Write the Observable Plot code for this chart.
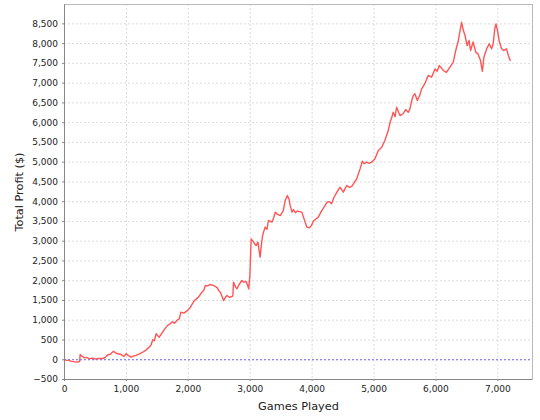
<!DOCTYPE html>
<html>
<head>
<meta charset="utf-8">
<script src="https://cdn.jsdelivr.net/npm/d3@7"></script>
<script src="https://cdn.jsdelivr.net/npm/@observablehq/plot@0.6"></script>
<style>
  html, body { margin: 0; padding: 0; background: #fff; }
  #chart svg { display: block; font-family: "DejaVu Sans", sans-serif; }
  #chart g[aria-label="x-axis label"] text,
  #chart g[aria-label="y-axis label"] text { font-size: 11.3px; fill: #222; }
</style>
</head>
<body>
<div id="chart"></div>
<script>
// Games played (x) and cumulative profit in $ (y)
const games = [
  0, 60, 120, 190, 230, 245, 253, 280, 320, 360, 400, 450, 500, 560, 610, 650, 700, 740, 790, 820,
  860, 900, 960, 995, 1030, 1075, 1110, 1155, 1210, 1265, 1320, 1370, 1400, 1425, 1450, 1480, 1510, 1530, 1560, 1585,
  1620, 1665, 1700, 1740, 1775, 1820, 1855, 1880, 1930, 1990, 2030, 2060, 2100, 2130, 2165, 2220, 2250, 2275, 2310, 2355,
  2400, 2435, 2470, 2490, 2520, 2545, 2570, 2600, 2625, 2660, 2705, 2720, 2730, 2760, 2785, 2820, 2865, 2900, 2935, 2960,
  2975, 2995, 3015, 3055, 3075, 3095, 3125, 3150, 3160, 3180, 3200, 3240, 3270, 3295, 3350, 3380, 3405, 3440, 3485, 3535,
  3565, 3600, 3630, 3645, 3675, 3700, 3730, 3755, 3790, 3835, 3870, 3915, 3955, 3990, 4020, 4060, 4100, 4155, 4200, 4240,
  4280, 4315, 4350, 4400, 4450, 4505, 4530, 4560, 4600, 4640, 4680, 4720, 4775, 4810, 4840, 4880, 4920, 4960, 5015, 5070,
  5125, 5175, 5230, 5260, 5290, 5310, 5340, 5365, 5400, 5420, 5470, 5510, 5555, 5580, 5610, 5635, 5660, 5700, 5740, 5770,
  5820, 5875, 5930, 5985, 6020, 6055, 6090, 6120, 6170, 6225, 6280, 6320, 6360, 6385, 6415, 6440, 6470, 6505, 6535, 6560,
  6600, 6645, 6680, 6720, 6750, 6775, 6820, 6860, 6900, 6925, 6950, 6970, 6995, 7020, 7060, 7095, 7140, 7170, 7200
];
const profit = [
  -10, -15, -40, -60, -50, -45, 135, 90, 50, 60, 25, 40, 20, 35, 30, 50, 125, 140, 215, 180,
  150, 140, 85, 150, 110, 65, 90, 110, 150, 190, 250, 320, 380, 505, 480, 660, 600, 570, 640, 700,
  780, 870, 900, 960, 925, 1000, 1040, 1205, 1180, 1250, 1320, 1400, 1500, 1540, 1585, 1710, 1760, 1880, 1870, 1905,
  1880, 1855, 1820, 1750, 1700, 1600, 1500, 1580, 1625, 1580, 1600, 1620, 1965, 1850, 1795, 1900, 2005, 1960, 1980, 1880,
  1795, 2130, 3060, 2975, 2920, 2890, 2975, 2700, 2595, 2900, 3145, 3355, 3300, 3525, 3480, 3600, 3735, 3680, 3650, 3775,
  4030, 4155, 4050, 3905, 3735, 3800, 3720, 3760, 3750, 3735, 3565, 3355, 3340, 3400, 3505, 3560, 3610, 3775, 3880, 3985,
  4000, 3945, 4100, 4240, 4365, 4240, 4325, 4410, 4360, 4385, 4480, 4580, 4830, 5025, 4960, 5000, 4970, 5000, 5085, 5295,
  5380, 5550, 5800, 6010, 6150, 6265, 6150, 6390, 6250, 6180, 6225, 6330, 6265, 6350, 6560, 6690, 6730, 6560, 6700, 6855,
  6985, 7195, 7150, 7360, 7300, 7445, 7380, 7320, 7275, 7400, 7530, 7825, 8060, 8290, 8540, 8350, 8205, 7950, 8080, 7825,
  8040, 7780, 7740, 7570, 7300, 7655, 7870, 7995, 7870, 7995, 8370, 8500, 8330, 8080, 7870, 7825, 7870, 7700, 7570
];
const xTicks = [0, 1000, 2000, 3000, 4000, 5000, 6000, 7000];
const yTicks = [-500, 0, 500, 1000, 1500, 2000, 2500, 3000, 3500, 4000, 4500, 5000, 5500, 6000, 6500, 7000, 7500, 8000, 8500];
const xLabel = "Games Played";
const yLabel = "Total Profit ($)";

const data = games.map((g, i) => ({games: g, profit: profit[i]}));
const fmt = d3.format(",");

const chart = Plot.plot({
  width: 540,
  height: 420,
  marginLeft: 64,
  marginRight: 8,
  marginTop: 4,
  marginBottom: 41,
  style: {fontFamily: "DejaVu Sans, sans-serif", fontSize: "9px", color: "#222", background: "#fff"},
  x: {domain: [0, 7560]},
  y: {domain: [-500, 8990]},
  marks: [
    Plot.gridX(xTicks, {stroke: "#dcdcdc", strokeOpacity: 1, strokeDasharray: "2,2"}),
    Plot.gridY(yTicks, {stroke: "#dcdcdc", strokeOpacity: 1, strokeDasharray: "2,2"}),
    Plot.frame({stroke: "#b8b8b8"}),
    Plot.ruleY([0], {stroke: "#6b6bff", strokeDasharray: "2,2", strokeWidth: 1}),
    Plot.line(data, {x: "games", y: "profit", stroke: "#ff5555", strokeWidth: 1.4}),
    Plot.axisX(xTicks, {tickFormat: fmt, tickSize: 2, tickPadding: 4, stroke: "#888",
      label: xLabel, labelAnchor: "center", labelArrow: "none", labelOffset: 30}),
    Plot.axisY(yTicks, {tickFormat: fmt, tickSize: 2, tickPadding: 4.5, stroke: "#888",
      label: yLabel, labelAnchor: "center", labelArrow: "none", labelOffset: 50}),
    Plot.ruleX([0], {stroke: "#888"}),
    Plot.ruleY([-500], {stroke: "#888"})
  ]
});
document.getElementById("chart").append(chart);
</script>
</body>
</html>
